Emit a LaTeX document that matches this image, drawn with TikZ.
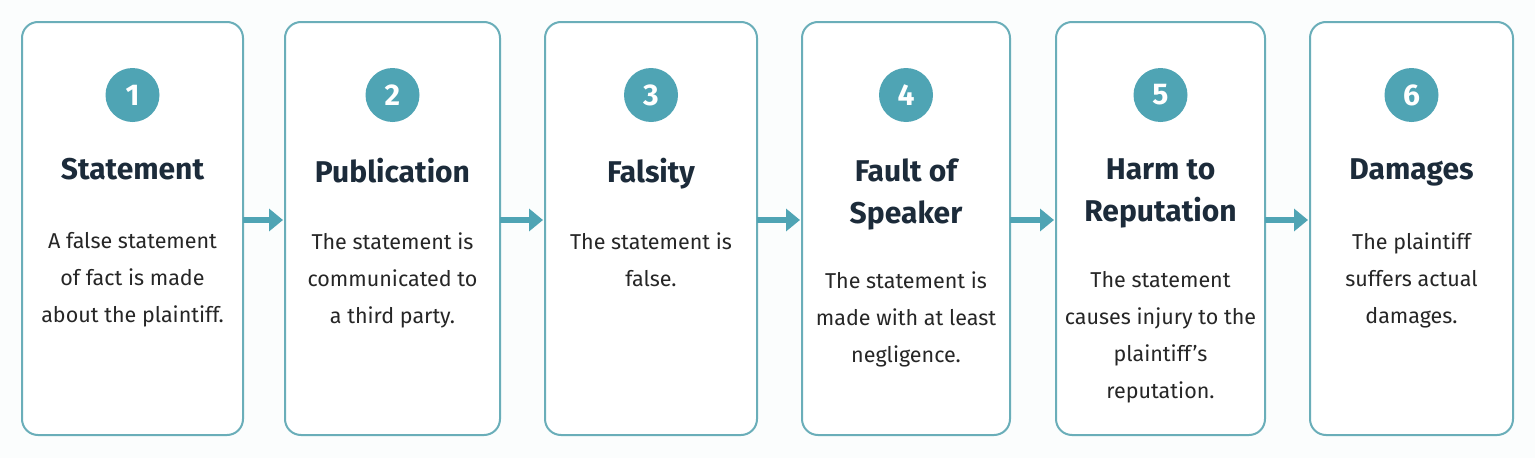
\documentclass[tikz,border=0pt]{standalone}
\usepackage{fontspec}
\setmainfont{Fira Sans}
\usetikzlibrary{arrows.meta}
\definecolor{teal1}{HTML}{4FA4B4}
\definecolor{edge}{HTML}{6AAEB9}
\definecolor{navy}{HTML}{1C2B3A}
\definecolor{bg}{HTML}{FBFDFD}
\begin{document}
\begin{tikzpicture}[x=1pt,y=-1pt,
  box/.style={draw=edge,line width=2pt,rounded corners=16pt,fill=white},
  num/.style={circle,fill=teal1,minimum size=54pt,inner sep=0pt,text=white,font=\fontsize{30}{32}\selectfont\bfseries},
  title/.style={anchor=north,align=center,text=navy,font=\fontsize{30}{42}\selectfont\bfseries},
  desc/.style={anchor=north,align=center,text=black!85,font=\fontsize{21.5}{37}\selectfont},
  arr/.style={draw=teal1,line width=6pt,-{Triangle[length=14pt,width=22pt]},shorten >=2pt}]
\useasboundingbox (0,0) rectangle (1535,458);
\fill[bg] (0,0) rectangle (1535,458);
\foreach \i/\l/\r in {1/22/243,2/285/500,3/545/757,4/802/1010,5/1056/1265,6/1310/1513}{
  \draw[box] (\l,22) rectangle (\r,435);
  \coordinate (L\i) at (\l,220);
  \coordinate (R\i) at (\r,220);
  \node[num] (n\i) at ({(\l+\r)/2},95) {\i};
}
\node[title] (t1) at (n1|-0,155) {Statement};
\node[desc] (d1) at (n1|-0,229) {A false statement\\of fact is made\\about the plaintiff.};
\node[title] (t2) at (n2|-0,155) {Publication};
\node[desc] (d2) at (n2|-0,229) {The statement is\\communicated to\\a third party.};
\node[title] (t3) at (n3|-0,155) {Falsity};
\node[desc] (d3) at (n3|-0,229) {The statement is\\false.};
\node[title] (t4) at (n4|-0,155) {Fault of\\Speaker};
\node[desc] (d4) at (n4|-0,268) {The statement is\\made with at least\\negligence.};
\node[title] (t5) at (n5|-0,155) {Harm to\\Reputation};
\node[desc] (d5) at (n5|-0,268) {The statement\\causes injury to the\\plaintiff’s\\reputation.};
\node[title] (t6) at (n6|-0,155) {Damages};
\node[desc] (d6) at (n6|-0,229) {The plaintiff\\suffers actual\\damages.};
\foreach \a/\b in {1/2,2/3,3/4,4/5,5/6}{\draw[arr] (R\a) -- (L\b);}
\end{tikzpicture}
\end{document}
